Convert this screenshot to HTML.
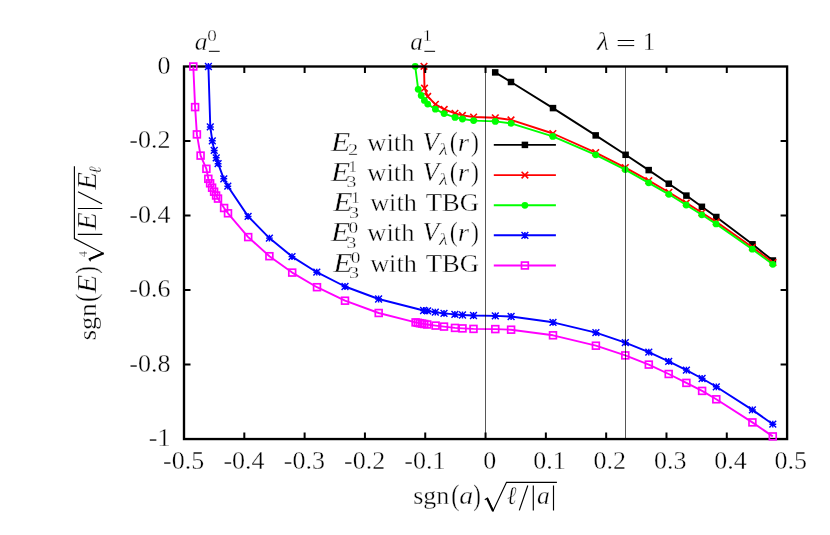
<!DOCTYPE html>
<html><head><meta charset="utf-8"><title>plot</title>
<style>html,body{margin:0;padding:0;background:#fff}svg{display:block}svg{will-change:transform}text{font-family:"Liberation Serif",serif;fill:#000;font-kerning:none;font-variant-ligatures:none;stroke:#fff;stroke-width:0.35px}.i{font-style:italic}</style></head><body>
<svg width="830" height="535" viewBox="0 0 830 535">
<rect width="830" height="535" fill="#fff"/>
<g id="s123">
<polyline points="495.2,72.4 511.0,82.0 553.0,108.1 595.7,135.4 625.6,154.8 648.7,170.1 668.8,183.7 686.4,195.6 701.9,206.8 716.3,217.0 752.5,244.3 772.9,260.5" fill="none" stroke="#000" stroke-width="1.9" stroke-linejoin="round"/>
<rect x="491.95" y="69.15" width="6.5" height="6.5" fill="#000"/>
<rect x="507.75" y="78.75" width="6.5" height="6.5" fill="#000"/>
<rect x="549.75" y="104.85" width="6.5" height="6.5" fill="#000"/>
<rect x="592.45" y="132.15" width="6.5" height="6.5" fill="#000"/>
<rect x="622.35" y="151.55" width="6.5" height="6.5" fill="#000"/>
<rect x="645.45" y="166.85" width="6.5" height="6.5" fill="#000"/>
<rect x="665.55" y="180.45" width="6.5" height="6.5" fill="#000"/>
<rect x="683.15" y="192.35" width="6.5" height="6.5" fill="#000"/>
<rect x="698.65" y="203.55" width="6.5" height="6.5" fill="#000"/>
<rect x="713.05" y="213.75" width="6.5" height="6.5" fill="#000"/>
<rect x="749.25" y="241.05" width="6.5" height="6.5" fill="#000"/>
<rect x="769.65" y="257.25" width="6.5" height="6.5" fill="#000"/>
<polyline points="424.0,66.3 424.5,88.2 427.7,96.4 435.4,104.3 444.2,109.4 455.0,113.3 462.4,115.4 473.6,117.0 495.3,117.8 511.0,119.9 552.9,133.5 595.7,152.6 625.3,167.6 648.8,180.7 668.9,192.3 686.3,202.9 701.9,212.8 716.2,221.9 752.4,247.3 773.0,262.5" fill="none" stroke="#f00" stroke-width="1.9" stroke-linejoin="round"/>
<path d="M420.70 63.00L427.30 69.60M420.70 69.60L427.30 63.00" stroke="#f00" stroke-width="1.6" fill="none"/>
<path d="M421.20 84.90L427.80 91.50M421.20 91.50L427.80 84.90" stroke="#f00" stroke-width="1.6" fill="none"/>
<path d="M424.40 93.10L431.00 99.70M424.40 99.70L431.00 93.10" stroke="#f00" stroke-width="1.6" fill="none"/>
<path d="M432.10 101.00L438.70 107.60M432.10 107.60L438.70 101.00" stroke="#f00" stroke-width="1.6" fill="none"/>
<path d="M440.90 106.10L447.50 112.70M440.90 112.70L447.50 106.10" stroke="#f00" stroke-width="1.6" fill="none"/>
<path d="M451.70 110.00L458.30 116.60M451.70 116.60L458.30 110.00" stroke="#f00" stroke-width="1.6" fill="none"/>
<path d="M459.10 112.10L465.70 118.70M459.10 118.70L465.70 112.10" stroke="#f00" stroke-width="1.6" fill="none"/>
<path d="M470.30 113.70L476.90 120.30M470.30 120.30L476.90 113.70" stroke="#f00" stroke-width="1.6" fill="none"/>
<path d="M492.00 114.50L498.60 121.10M492.00 121.10L498.60 114.50" stroke="#f00" stroke-width="1.6" fill="none"/>
<path d="M507.70 116.60L514.30 123.20M507.70 123.20L514.30 116.60" stroke="#f00" stroke-width="1.6" fill="none"/>
<path d="M549.60 130.20L556.20 136.80M549.60 136.80L556.20 130.20" stroke="#f00" stroke-width="1.6" fill="none"/>
<path d="M592.40 149.30L599.00 155.90M592.40 155.90L599.00 149.30" stroke="#f00" stroke-width="1.6" fill="none"/>
<path d="M622.00 164.30L628.60 170.90M622.00 170.90L628.60 164.30" stroke="#f00" stroke-width="1.6" fill="none"/>
<path d="M645.50 177.40L652.10 184.00M645.50 184.00L652.10 177.40" stroke="#f00" stroke-width="1.6" fill="none"/>
<path d="M665.60 189.00L672.20 195.60M665.60 195.60L672.20 189.00" stroke="#f00" stroke-width="1.6" fill="none"/>
<path d="M683.00 199.60L689.60 206.20M683.00 206.20L689.60 199.60" stroke="#f00" stroke-width="1.6" fill="none"/>
<path d="M698.60 209.50L705.20 216.10M698.60 216.10L705.20 209.50" stroke="#f00" stroke-width="1.6" fill="none"/>
<path d="M712.90 218.60L719.50 225.20M712.90 225.20L719.50 218.60" stroke="#f00" stroke-width="1.6" fill="none"/>
<path d="M749.10 244.00L755.70 250.60M749.10 250.60L755.70 244.00" stroke="#f00" stroke-width="1.6" fill="none"/>
<path d="M769.70 259.20L776.30 265.80M769.70 265.80L776.30 259.20" stroke="#f00" stroke-width="1.6" fill="none"/>
<polyline points="415.2,66.3 418.2,89.3 421.2,95.5 424.4,100.4 427.7,104.1 435.4,109.2 444.1,113.6 455.0,117.4 462.4,119.0 473.6,120.6 495.3,121.4 511.0,123.3 552.8,136.4 595.7,154.8 625.2,169.6 648.7,182.8 668.9,194.3 686.2,205.0 701.8,214.8 716.1,223.9 752.3,249.2 772.8,264.3" fill="none" stroke="#0f0" stroke-width="1.9" stroke-linejoin="round"/>
<circle cx="415.20" cy="66.30" r="3.4" fill="#0f0"/>
<circle cx="418.20" cy="89.30" r="3.4" fill="#0f0"/>
<circle cx="421.20" cy="95.50" r="3.4" fill="#0f0"/>
<circle cx="424.40" cy="100.40" r="3.4" fill="#0f0"/>
<circle cx="427.70" cy="104.10" r="3.4" fill="#0f0"/>
<circle cx="435.40" cy="109.20" r="3.4" fill="#0f0"/>
<circle cx="444.10" cy="113.60" r="3.4" fill="#0f0"/>
<circle cx="455.00" cy="117.40" r="3.4" fill="#0f0"/>
<circle cx="462.40" cy="119.00" r="3.4" fill="#0f0"/>
<circle cx="473.60" cy="120.60" r="3.4" fill="#0f0"/>
<circle cx="495.30" cy="121.40" r="3.4" fill="#0f0"/>
<circle cx="511.00" cy="123.30" r="3.4" fill="#0f0"/>
<circle cx="552.80" cy="136.40" r="3.4" fill="#0f0"/>
<circle cx="595.70" cy="154.80" r="3.4" fill="#0f0"/>
<circle cx="625.20" cy="169.60" r="3.4" fill="#0f0"/>
<circle cx="648.70" cy="182.80" r="3.4" fill="#0f0"/>
<circle cx="668.90" cy="194.30" r="3.4" fill="#0f0"/>
<circle cx="686.20" cy="205.00" r="3.4" fill="#0f0"/>
<circle cx="701.80" cy="214.80" r="3.4" fill="#0f0"/>
<circle cx="716.10" cy="223.90" r="3.4" fill="#0f0"/>
<circle cx="752.30" cy="249.20" r="3.4" fill="#0f0"/>
<circle cx="772.80" cy="264.30" r="3.4" fill="#0f0"/>
</g>
<g id="legend-samples">
<line x1="493.8" y1="144.9" x2="555.9" y2="144.9" stroke="#000" stroke-width="1.9"/>
<rect x="521.65" y="141.65" width="6.5" height="6.5" fill="#000"/>
<line x1="493.8" y1="175.1" x2="555.9" y2="175.1" stroke="#f00" stroke-width="1.9"/>
<path d="M521.60 171.80L528.20 178.40M521.60 178.40L528.20 171.80" stroke="#f00" stroke-width="1.6" fill="none"/>
<line x1="493.8" y1="205.3" x2="555.9" y2="205.3" stroke="#0f0" stroke-width="1.9"/>
<circle cx="524.90" cy="205.30" r="3.4" fill="#0f0"/>
<line x1="493.8" y1="235.3" x2="555.9" y2="235.3" stroke="#00f" stroke-width="1.9"/>
<path d="M521.50 231.90L528.30 238.70M521.50 238.70L528.30 231.90M521.50 235.30L528.30 235.30M524.90 231.90L524.90 238.70" stroke="#00f" stroke-width="1.45" fill="none"/>
<line x1="493.8" y1="265.5" x2="555.9" y2="265.5" stroke="#f0f" stroke-width="1.9"/>
<rect x="521.50" y="262.10" width="6.8" height="6.8" fill="none" stroke="#f0f" stroke-width="1.7"/>
</g>
<g id="axes" stroke="#000" stroke-width="2" fill="none">
<rect x="184.0" y="66.5" width="603.10" height="372.55" stroke-width="2.35"/>
<path d="M244.31 439.05V432.55M244.31 66.5V73.0"/>
<path d="M304.62 439.05V432.55M304.62 66.5V73.0"/>
<path d="M364.93 439.05V432.55M364.93 66.5V73.0"/>
<path d="M425.24 439.05V432.55M425.24 66.5V73.0"/>
<path d="M485.55 439.05V432.55M485.55 66.5V73.0"/>
<path d="M545.86 439.05V432.55M545.86 66.5V73.0"/>
<path d="M606.17 439.05V432.55M606.17 66.5V73.0"/>
<path d="M666.48 439.05V432.55M666.48 66.5V73.0"/>
<path d="M726.79 439.05V432.55M726.79 66.5V73.0"/>
<path d="M184.0 141.01H190.5M787.1 141.01H780.6"/>
<path d="M184.0 215.52H190.5M787.1 215.52H780.6"/>
<path d="M184.0 290.03H190.5M787.1 290.03H780.6"/>
<path d="M184.0 364.54H190.5M787.1 364.54H780.6"/>
</g>
<g id="s45">
<polyline points="208.4,66.5 210.3,126.9 212.3,140.8 214.2,150.4 216.2,157.8 218.1,163.7 223.8,178.8 227.8,186.2 248.1,216.4 269.4,238.1 292.0,256.6 316.8,272.2 345.0,286.5 378.6,299.0 423.6,310.5 427.6,310.9 435.3,312.2 444.0,313.4 454.9,314.4 462.5,315.0 473.5,315.5 495.3,315.9 511.1,316.5 553.0,322.3 595.9,332.7 625.3,342.6 648.8,352.2 668.7,361.3 686.4,370.1 702.1,378.5 716.3,386.8 752.4,409.9 772.8,424.2" fill="none" stroke="#00f" stroke-width="1.9" stroke-linejoin="round"/>
<path d="M205.00 63.10L211.80 69.90M205.00 69.90L211.80 63.10M205.00 66.50L211.80 66.50M208.40 63.10L208.40 69.90" stroke="#00f" stroke-width="1.45" fill="none"/>
<path d="M206.90 123.50L213.70 130.30M206.90 130.30L213.70 123.50M206.90 126.90L213.70 126.90M210.30 123.50L210.30 130.30" stroke="#00f" stroke-width="1.45" fill="none"/>
<path d="M208.90 137.40L215.70 144.20M208.90 144.20L215.70 137.40M208.90 140.80L215.70 140.80M212.30 137.40L212.30 144.20" stroke="#00f" stroke-width="1.45" fill="none"/>
<path d="M210.80 147.00L217.60 153.80M210.80 153.80L217.60 147.00M210.80 150.40L217.60 150.40M214.20 147.00L214.20 153.80" stroke="#00f" stroke-width="1.45" fill="none"/>
<path d="M212.80 154.40L219.60 161.20M212.80 161.20L219.60 154.40M212.80 157.80L219.60 157.80M216.20 154.40L216.20 161.20" stroke="#00f" stroke-width="1.45" fill="none"/>
<path d="M214.70 160.30L221.50 167.10M214.70 167.10L221.50 160.30M214.70 163.70L221.50 163.70M218.10 160.30L218.10 167.10" stroke="#00f" stroke-width="1.45" fill="none"/>
<path d="M220.40 175.40L227.20 182.20M220.40 182.20L227.20 175.40M220.40 178.80L227.20 178.80M223.80 175.40L223.80 182.20" stroke="#00f" stroke-width="1.45" fill="none"/>
<path d="M224.40 182.80L231.20 189.60M224.40 189.60L231.20 182.80M224.40 186.20L231.20 186.20M227.80 182.80L227.80 189.60" stroke="#00f" stroke-width="1.45" fill="none"/>
<path d="M244.70 213.00L251.50 219.80M244.70 219.80L251.50 213.00M244.70 216.40L251.50 216.40M248.10 213.00L248.10 219.80" stroke="#00f" stroke-width="1.45" fill="none"/>
<path d="M266.00 234.70L272.80 241.50M266.00 241.50L272.80 234.70M266.00 238.10L272.80 238.10M269.40 234.70L269.40 241.50" stroke="#00f" stroke-width="1.45" fill="none"/>
<path d="M288.60 253.20L295.40 260.00M288.60 260.00L295.40 253.20M288.60 256.60L295.40 256.60M292.00 253.20L292.00 260.00" stroke="#00f" stroke-width="1.45" fill="none"/>
<path d="M313.40 268.80L320.20 275.60M313.40 275.60L320.20 268.80M313.40 272.20L320.20 272.20M316.80 268.80L316.80 275.60" stroke="#00f" stroke-width="1.45" fill="none"/>
<path d="M341.60 283.10L348.40 289.90M341.60 289.90L348.40 283.10M341.60 286.50L348.40 286.50M345.00 283.10L345.00 289.90" stroke="#00f" stroke-width="1.45" fill="none"/>
<path d="M375.20 295.60L382.00 302.40M375.20 302.40L382.00 295.60M375.20 299.00L382.00 299.00M378.60 295.60L378.60 302.40" stroke="#00f" stroke-width="1.45" fill="none"/>
<path d="M420.20 307.10L427.00 313.90M420.20 313.90L427.00 307.10M420.20 310.50L427.00 310.50M423.60 307.10L423.60 313.90" stroke="#00f" stroke-width="1.45" fill="none"/>
<path d="M424.20 307.50L431.00 314.30M424.20 314.30L431.00 307.50M424.20 310.90L431.00 310.90M427.60 307.50L427.60 314.30" stroke="#00f" stroke-width="1.45" fill="none"/>
<path d="M431.90 308.80L438.70 315.60M431.90 315.60L438.70 308.80M431.90 312.20L438.70 312.20M435.30 308.80L435.30 315.60" stroke="#00f" stroke-width="1.45" fill="none"/>
<path d="M440.60 310.00L447.40 316.80M440.60 316.80L447.40 310.00M440.60 313.40L447.40 313.40M444.00 310.00L444.00 316.80" stroke="#00f" stroke-width="1.45" fill="none"/>
<path d="M451.50 311.00L458.30 317.80M451.50 317.80L458.30 311.00M451.50 314.40L458.30 314.40M454.90 311.00L454.90 317.80" stroke="#00f" stroke-width="1.45" fill="none"/>
<path d="M459.10 311.60L465.90 318.40M459.10 318.40L465.90 311.60M459.10 315.00L465.90 315.00M462.50 311.60L462.50 318.40" stroke="#00f" stroke-width="1.45" fill="none"/>
<path d="M470.10 312.10L476.90 318.90M470.10 318.90L476.90 312.10M470.10 315.50L476.90 315.50M473.50 312.10L473.50 318.90" stroke="#00f" stroke-width="1.45" fill="none"/>
<path d="M491.90 312.50L498.70 319.30M491.90 319.30L498.70 312.50M491.90 315.90L498.70 315.90M495.30 312.50L495.30 319.30" stroke="#00f" stroke-width="1.45" fill="none"/>
<path d="M507.70 313.10L514.50 319.90M507.70 319.90L514.50 313.10M507.70 316.50L514.50 316.50M511.10 313.10L511.10 319.90" stroke="#00f" stroke-width="1.45" fill="none"/>
<path d="M549.60 318.90L556.40 325.70M549.60 325.70L556.40 318.90M549.60 322.30L556.40 322.30M553.00 318.90L553.00 325.70" stroke="#00f" stroke-width="1.45" fill="none"/>
<path d="M592.50 329.30L599.30 336.10M592.50 336.10L599.30 329.30M592.50 332.70L599.30 332.70M595.90 329.30L595.90 336.10" stroke="#00f" stroke-width="1.45" fill="none"/>
<path d="M621.90 339.20L628.70 346.00M621.90 346.00L628.70 339.20M621.90 342.60L628.70 342.60M625.30 339.20L625.30 346.00" stroke="#00f" stroke-width="1.45" fill="none"/>
<path d="M645.40 348.80L652.20 355.60M645.40 355.60L652.20 348.80M645.40 352.20L652.20 352.20M648.80 348.80L648.80 355.60" stroke="#00f" stroke-width="1.45" fill="none"/>
<path d="M665.30 357.90L672.10 364.70M665.30 364.70L672.10 357.90M665.30 361.30L672.10 361.30M668.70 357.90L668.70 364.70" stroke="#00f" stroke-width="1.45" fill="none"/>
<path d="M683.00 366.70L689.80 373.50M683.00 373.50L689.80 366.70M683.00 370.10L689.80 370.10M686.40 366.70L686.40 373.50" stroke="#00f" stroke-width="1.45" fill="none"/>
<path d="M698.70 375.10L705.50 381.90M698.70 381.90L705.50 375.10M698.70 378.50L705.50 378.50M702.10 375.10L702.10 381.90" stroke="#00f" stroke-width="1.45" fill="none"/>
<path d="M712.90 383.40L719.70 390.20M712.90 390.20L719.70 383.40M712.90 386.80L719.70 386.80M716.30 383.40L716.30 390.20" stroke="#00f" stroke-width="1.45" fill="none"/>
<path d="M749.00 406.50L755.80 413.30M749.00 413.30L755.80 406.50M749.00 409.90L755.80 409.90M752.40 406.50L752.40 413.30" stroke="#00f" stroke-width="1.45" fill="none"/>
<path d="M769.40 420.80L776.20 427.60M769.40 427.60L776.20 420.80M769.40 424.20L776.20 424.20M772.80 420.80L772.80 427.60" stroke="#00f" stroke-width="1.45" fill="none"/>
<polyline points="193.3,66.5 195.1,107.1 196.9,134.4 200.6,155.6 206.4,168.8 208.3,178.8 210.1,183.3 212.1,187.7 214.1,191.7 216.1,195.5 218.0,198.6 224.1,208.0 228.0,213.3 248.2,237.1 269.4,256.2 292.2,272.6 317.0,287.2 345.0,300.7 378.7,313.0 415.6,322.4 417.8,322.8 419.9,323.2 422.1,323.6 424.3,324.0 427.2,324.5 435.6,325.6 444.0,326.6 455.0,327.9 462.5,328.4 473.5,328.9 495.3,329.1 511.1,329.7 553.0,335.3 595.9,345.7 625.3,355.4 648.8,364.6 668.7,374.0 686.4,382.9 702.1,390.9 716.3,399.3 752.4,422.4 772.8,436.4" fill="none" stroke="#f0f" stroke-width="1.9" stroke-linejoin="round"/>
<rect x="189.90" y="63.10" width="6.8" height="6.8" fill="none" stroke="#f0f" stroke-width="1.7"/>
<rect x="191.70" y="103.70" width="6.8" height="6.8" fill="none" stroke="#f0f" stroke-width="1.7"/>
<rect x="193.50" y="131.00" width="6.8" height="6.8" fill="none" stroke="#f0f" stroke-width="1.7"/>
<rect x="197.20" y="152.20" width="6.8" height="6.8" fill="none" stroke="#f0f" stroke-width="1.7"/>
<rect x="203.00" y="165.40" width="6.8" height="6.8" fill="none" stroke="#f0f" stroke-width="1.7"/>
<rect x="204.90" y="175.40" width="6.8" height="6.8" fill="none" stroke="#f0f" stroke-width="1.7"/>
<rect x="206.70" y="179.90" width="6.8" height="6.8" fill="none" stroke="#f0f" stroke-width="1.7"/>
<rect x="208.70" y="184.30" width="6.8" height="6.8" fill="none" stroke="#f0f" stroke-width="1.7"/>
<rect x="210.70" y="188.30" width="6.8" height="6.8" fill="none" stroke="#f0f" stroke-width="1.7"/>
<rect x="212.70" y="192.10" width="6.8" height="6.8" fill="none" stroke="#f0f" stroke-width="1.7"/>
<rect x="214.60" y="195.20" width="6.8" height="6.8" fill="none" stroke="#f0f" stroke-width="1.7"/>
<rect x="220.70" y="204.60" width="6.8" height="6.8" fill="none" stroke="#f0f" stroke-width="1.7"/>
<rect x="224.60" y="209.90" width="6.8" height="6.8" fill="none" stroke="#f0f" stroke-width="1.7"/>
<rect x="244.80" y="233.70" width="6.8" height="6.8" fill="none" stroke="#f0f" stroke-width="1.7"/>
<rect x="266.00" y="252.80" width="6.8" height="6.8" fill="none" stroke="#f0f" stroke-width="1.7"/>
<rect x="288.80" y="269.20" width="6.8" height="6.8" fill="none" stroke="#f0f" stroke-width="1.7"/>
<rect x="313.60" y="283.80" width="6.8" height="6.8" fill="none" stroke="#f0f" stroke-width="1.7"/>
<rect x="341.60" y="297.30" width="6.8" height="6.8" fill="none" stroke="#f0f" stroke-width="1.7"/>
<rect x="375.30" y="309.60" width="6.8" height="6.8" fill="none" stroke="#f0f" stroke-width="1.7"/>
<rect x="412.20" y="319.00" width="6.8" height="6.8" fill="none" stroke="#f0f" stroke-width="1.7"/>
<rect x="414.40" y="319.40" width="6.8" height="6.8" fill="none" stroke="#f0f" stroke-width="1.7"/>
<rect x="416.50" y="319.80" width="6.8" height="6.8" fill="none" stroke="#f0f" stroke-width="1.7"/>
<rect x="418.70" y="320.20" width="6.8" height="6.8" fill="none" stroke="#f0f" stroke-width="1.7"/>
<rect x="420.90" y="320.60" width="6.8" height="6.8" fill="none" stroke="#f0f" stroke-width="1.7"/>
<rect x="423.80" y="321.10" width="6.8" height="6.8" fill="none" stroke="#f0f" stroke-width="1.7"/>
<rect x="432.20" y="322.20" width="6.8" height="6.8" fill="none" stroke="#f0f" stroke-width="1.7"/>
<rect x="440.60" y="323.20" width="6.8" height="6.8" fill="none" stroke="#f0f" stroke-width="1.7"/>
<rect x="451.60" y="324.50" width="6.8" height="6.8" fill="none" stroke="#f0f" stroke-width="1.7"/>
<rect x="459.10" y="325.00" width="6.8" height="6.8" fill="none" stroke="#f0f" stroke-width="1.7"/>
<rect x="470.10" y="325.50" width="6.8" height="6.8" fill="none" stroke="#f0f" stroke-width="1.7"/>
<rect x="491.90" y="325.70" width="6.8" height="6.8" fill="none" stroke="#f0f" stroke-width="1.7"/>
<rect x="507.70" y="326.30" width="6.8" height="6.8" fill="none" stroke="#f0f" stroke-width="1.7"/>
<rect x="549.60" y="331.90" width="6.8" height="6.8" fill="none" stroke="#f0f" stroke-width="1.7"/>
<rect x="592.50" y="342.30" width="6.8" height="6.8" fill="none" stroke="#f0f" stroke-width="1.7"/>
<rect x="621.90" y="352.00" width="6.8" height="6.8" fill="none" stroke="#f0f" stroke-width="1.7"/>
<rect x="645.40" y="361.20" width="6.8" height="6.8" fill="none" stroke="#f0f" stroke-width="1.7"/>
<rect x="665.30" y="370.60" width="6.8" height="6.8" fill="none" stroke="#f0f" stroke-width="1.7"/>
<rect x="683.00" y="379.50" width="6.8" height="6.8" fill="none" stroke="#f0f" stroke-width="1.7"/>
<rect x="698.70" y="387.50" width="6.8" height="6.8" fill="none" stroke="#f0f" stroke-width="1.7"/>
<rect x="712.90" y="395.90" width="6.8" height="6.8" fill="none" stroke="#f0f" stroke-width="1.7"/>
<rect x="749.00" y="419.00" width="6.8" height="6.8" fill="none" stroke="#f0f" stroke-width="1.7"/>
<rect x="769.40" y="433.00" width="6.8" height="6.8" fill="none" stroke="#f0f" stroke-width="1.7"/>
</g>
<g id="vlines" fill="#000" opacity="0.66">
<rect x="485" y="66.5" width="1" height="372.55"/>
<rect x="625" y="66.5" width="1" height="372.55"/>
</g>
<g id="ticklabels" font-size="26.0">
<text x="183.70" y="469.0" text-anchor="middle">-0.5</text>
<text x="244.01" y="469.0" text-anchor="middle">-0.4</text>
<text x="304.32" y="469.0" text-anchor="middle">-0.3</text>
<text x="364.63" y="469.0" text-anchor="middle">-0.2</text>
<text x="424.94" y="469.0" text-anchor="middle">-0.1</text>
<text x="489.75" y="469.0" text-anchor="middle">0</text>
<text x="549.56" y="469.0" text-anchor="middle">0.1</text>
<text x="609.87" y="469.0" text-anchor="middle">0.2</text>
<text x="670.18" y="469.0" text-anchor="middle">0.3</text>
<text x="730.49" y="469.0" text-anchor="middle">0.4</text>
<text x="790.80" y="469.0" text-anchor="middle">0.5</text>
<text x="170.5" y="73.50" text-anchor="end">0</text>
<text x="170.5" y="148.01" text-anchor="end">-0.2</text>
<text x="170.5" y="222.52" text-anchor="end">-0.4</text>
<text x="170.5" y="297.03" text-anchor="end">-0.6</text>
<text x="170.5" y="371.54" text-anchor="end">-0.8</text>
<text x="170.5" y="446.05" text-anchor="end">-1</text>
</g>
<g id="legend-text">
<text class="i" font-size="26.6" transform="translate(330.97 151.05) scale(1.1902 1)">E</text><text font-size="17.5" transform="translate(348.00 154.95) scale(1.1689 1)" stroke-width="0.18">2</text><text font-size="24.8" transform="translate(367.37 151.05) scale(1.0677 1)">with</text><text class="i" font-size="26.3" transform="translate(422.59 151.05) scale(1.0278 1)">V</text><text class="i" font-size="16.6" transform="translate(438.89 154.85) scale(1.2115 1)" stroke-width="0.18">λ</text><text font-size="27.7" transform="translate(449.64 151.05) scale(0.8715 1)">(</text><text class="i" font-size="24.2" transform="translate(457.82 151.05) scale(1.1989 1)">r</text><text font-size="27.7" transform="translate(470.93 151.05) scale(0.8574 1)">)</text>
<text class="i" font-size="26.6" transform="translate(330.97 181.25) scale(1.1902 1)">E</text><text font-size="17.5" transform="translate(348.70 172.35) scale(0.9090 1)" stroke-width="0.18">1</text><text font-size="17.5" transform="translate(346.45 187.45) scale(1.1343 1)" stroke-width="0.18">3</text><text font-size="24.8" transform="translate(367.37 181.25) scale(1.0677 1)">with</text><text class="i" font-size="26.3" transform="translate(422.59 181.25) scale(1.0278 1)">V</text><text class="i" font-size="16.6" transform="translate(438.89 185.05) scale(1.2115 1)" stroke-width="0.18">λ</text><text font-size="27.7" transform="translate(449.64 181.25) scale(0.8715 1)">(</text><text class="i" font-size="24.2" transform="translate(457.82 181.25) scale(1.1989 1)">r</text><text font-size="27.7" transform="translate(470.93 181.25) scale(0.8574 1)">)</text>
<text class="i" font-size="26.6" transform="translate(333.17 211.45) scale(1.1902 1)">E</text><text font-size="17.5" transform="translate(351.50 202.55) scale(0.9090 1)" stroke-width="0.18">1</text><text font-size="17.5" transform="translate(348.94 217.65) scale(1.1482 1)" stroke-width="0.18">3</text><text font-size="24.8" transform="translate(370.17 211.45) scale(1.0586 1)">with</text><text font-size="26.0" transform="translate(425.82 211.45) scale(1.0233 1)">TBG</text>
<text class="i" font-size="26.6" transform="translate(330.97 241.45) scale(1.1902 1)">E</text><text font-size="17.5" transform="translate(348.56 232.55) scale(1.1056 1)" stroke-width="0.18">0</text><text font-size="17.5" transform="translate(346.45 247.65) scale(1.1343 1)" stroke-width="0.18">3</text><text font-size="24.8" transform="translate(367.37 241.45) scale(1.0677 1)">with</text><text class="i" font-size="26.3" transform="translate(422.59 241.45) scale(1.0278 1)">V</text><text class="i" font-size="16.6" transform="translate(438.89 245.25) scale(1.2115 1)" stroke-width="0.18">λ</text><text font-size="27.7" transform="translate(449.64 241.45) scale(0.8715 1)">(</text><text class="i" font-size="24.2" transform="translate(457.82 241.45) scale(1.1989 1)">r</text><text font-size="27.7" transform="translate(470.93 241.45) scale(0.8574 1)">)</text>
<text class="i" font-size="26.6" transform="translate(333.17 271.65) scale(1.1902 1)">E</text><text font-size="17.5" transform="translate(350.66 262.75) scale(1.1056 1)" stroke-width="0.18">0</text><text font-size="17.5" transform="translate(348.94 277.85) scale(1.1482 1)" stroke-width="0.18">3</text><text font-size="24.8" transform="translate(370.17 271.65) scale(1.0586 1)">with</text><text font-size="26.0" transform="translate(425.82 271.65) scale(1.0233 1)">TBG</text>
</g>
<g id="toplabels">
<text class="i" font-size="24.5" transform="translate(194.64 49.80) scale(1.0473 1)">a</text><text font-size="17" transform="translate(207.27 40.60) scale(1.1242 1)" stroke-width="0.18">0</text><line x1="208.9" y1="51.3" x2="219.7" y2="51.3" stroke="#000" stroke-width="1.0"/>
<text class="i" font-size="24.5" transform="translate(410.15 49.80) scale(1.0284 1)">a</text><text font-size="17" transform="translate(423.10 40.60) scale(1.0025 1)" stroke-width="0.18">1</text><line x1="424.4" y1="51.3" x2="435.1" y2="51.3" stroke="#000" stroke-width="1.0"/>
<text class="i" font-size="24.9" transform="translate(596.98 49.60) scale(1.1140 1)">λ</text><path d="M617.7 40.5H634.2M617.7 45.6H634.2" stroke="#000" stroke-width="1.0"/><text font-size="25.3" transform="translate(642.93 49.60) scale(0.9319 1)">1</text>
</g>
<g id="xlabel">
<text font-size="24.5" transform="translate(413.23 504.40) scale(1.0625 1)">sgn</text>
<text font-size="28.5" transform="translate(451.22 504.90) scale(0.8607 1)">(</text>
<text class="i" font-size="24.5" transform="translate(459.17 504.40) scale(1.1416 1)">a</text>
<text font-size="28.5" transform="translate(473.27 504.90) scale(0.7924 1)">)</text>
<path d="M484.8 499.7L487.4 498.1L493.2 510.6L506.5 482.3H556.9" fill="none" stroke="#000" stroke-width="1.15" stroke-linejoin="miter" stroke-miterlimit="10"/>
<path d="M487.0 498.3L493.1 511.3" stroke="#000" stroke-width="2.1" fill="none"/>
<text class="i" font-size="25.5" transform="translate(507.05 504.40) scale(0.8623 1)">ℓ</text>
<path d="M519.3 510.4L527.8 485.5" stroke="#000" stroke-width="1.15"/>
<path d="M533.3 485.5V510.4M553.5 485.5V510.4" stroke="#000" stroke-width="1.15"/>
<text class="i" font-size="24.5" transform="translate(537.04 504.40) scale(1.0473 1)">a</text>
</g>
<g id="ylabel" transform="translate(95.6 339.1) rotate(-90)">
<text font-size="24.5" transform="translate(-1.19 0.00) scale(1.0839 1)">sgn</text>
<text font-size="28.5" transform="translate(37.12 0.00) scale(0.8607 1)">(</text>
<text class="i" font-size="26.3" transform="translate(45.86 0.00) scale(1.1536 1)">E</text>
<text font-size="28.5" transform="translate(65.37 0.00) scale(0.7924 1)">)</text>
<text font-size="12.8" transform="translate(81.86 -8.60) scale(0.9580 1)" stroke-width="0">4</text>
<path d="M77.8 -5.0L80.2 -6.5L86.0 7.2L100.5 -21.2H172.8" fill="none" stroke="#000" stroke-width="1.15" stroke-miterlimit="10"/>
<path d="M79.9 -6.3L85.8 8.1" stroke="#000" stroke-width="2.1" fill="none"/>
<path d="M104.8 -17.8V6.7M130.6 -17.8V6.7" stroke="#000" stroke-width="1.15"/>
<text class="i" font-size="26.3" transform="translate(109.14 0.00) scale(1.0972 1)">E</text>
<path d="M135.4 6.4L147.3 -17.6" stroke="#000" stroke-width="1.15"/>
<text class="i" font-size="26.3" transform="translate(149.24 0.00) scale(1.0972 1)">E</text>
<text class="i" font-size="17.6" transform="translate(165.44 5.00) scale(0.9879 1)" stroke-width="0.18">ℓ</text>
</g>
</svg></body></html>
